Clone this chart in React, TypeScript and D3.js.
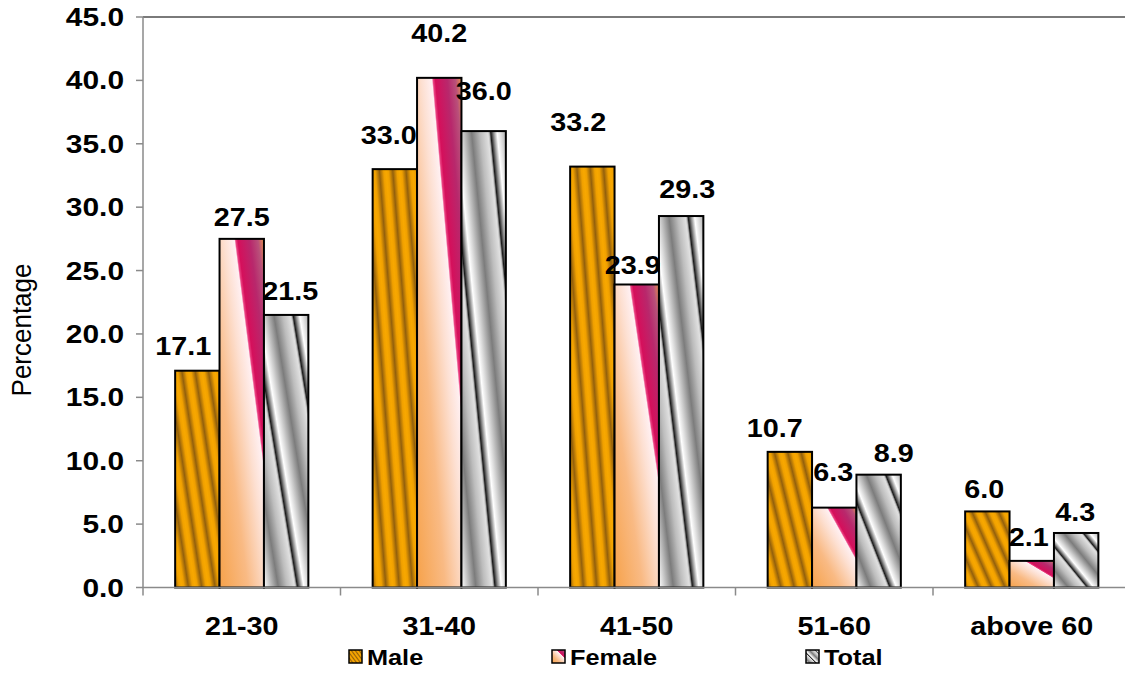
import React from "react";
import * as d3 from "d3";

const categories = ["21-30", "31-40", "41-50", "51-60", "above 60"];
const seriesNames = ["Male", "Female", "Total"];
const male = [17.1, 33.0, 33.2, 10.7, 6.0];
const female = [27.5, 40.2, 23.9, 6.3, 2.1];
const total = [21.5, 36.0, 29.3, 8.9, 4.3];
const yTicks = [0, 5, 10, 15, 20, 25, 30, 35, 40, 45];

// label nudges (dx, dy from bar top to label centre), as in the reference
const labelNudge: number[][][] = [
  [[-14, -25], [-6, -34], [-14, -45], [-15, -24], [-3, -22]],
  [[0, -22], [0, -45], [-4, -20], [-1, -36], [-3, -24]],
  [[4, -24], [0, -40], [6, -27], [15, -22], [-1, -21]],
];

const W = 1125;
const H = 673;
const left = 143;
const groupW = 197.5;
const top = 17;
const bottom = 587.5;
const FONT = "'Liberation Sans', Arial, sans-serif";
const SX = 1.15;

export default function App() {
  const values = [male, female, total];
  const fills = ["url(#gMale)", "url(#gFemale)", "url(#gTotal)"];
  const x0 = d3
    .scaleBand<string>()
    .domain(categories)
    .range([left, left + groupW * categories.length])
    .paddingInner(0)
    .paddingOuter(0);
  const barW = 44.4;
  const x1 = d3
    .scaleBand<string>()
    .domain(seriesNames)
    .range([(groupW - barW * 3) / 2, (groupW + barW * 3) / 2]);
  const y = d3.scaleLinear().domain([0, 45]).range([bottom, top]);

  const boundaries = d3.range(categories.length + 1).map((i) => left + i * groupW);

  return (
    <div style={{ position: "absolute", left: 0, top: 0 }}>
      <svg width={W} height={H} style={{ display: "block", background: "#fff" }}>
        <defs>
          <linearGradient id="gMale" x1="0" y1="0" x2="0.192" y2="-0.144" spreadMethod="repeat">
            <stop offset="0" stopColor="#F8A800" />
            <stop offset="0.18" stopColor="#F0A000" />
            <stop offset="0.5" stopColor="#93600C" />
            <stop offset="0.82" stopColor="#F0A000" />
            <stop offset="1" stopColor="#F8A800" />
          </linearGradient>
          <linearGradient id="gFemale" x1="0" y1="1" x2="1" y2="0">
            <stop offset="0" stopColor="#F6A24A" />
            <stop offset="0.32" stopColor="#F9BA84" />
            <stop offset="0.55" stopColor="#FDE0D2" />
            <stop offset="0.665" stopColor="#FFF0F2" />
            <stop offset="0.68" stopColor="#EA4282" />
            <stop offset="0.705" stopColor="#D50F5B" />
            <stop offset="0.84" stopColor="#B8286C" />
            <stop offset="0.93" stopColor="#B9507A" />
            <stop offset="1" stopColor="#E8904C" />
          </linearGradient>
          <linearGradient id="gTotal" x1="0" y1="1" x2="0.45" y2="0.55" spreadMethod="repeat">
            <stop offset="0" stopColor="#FFFFFF" />
            <stop offset="0.1" stopColor="#DCDCDC" />
            <stop offset="0.36" stopColor="#7C7C7C" />
            <stop offset="0.58" stopColor="#BDBDBD" />
            <stop offset="0.77" stopColor="#E0E0E0" />
            <stop offset="0.8" stopColor="#BEBEBE" />
            <stop offset="0.84" stopColor="#1A1A1A" />
            <stop offset="0.91" stopColor="#8A8A8A" />
            <stop offset="1" stopColor="#FFFFFF" />
          </linearGradient>
        </defs>

        {/* plot frame: top line, y axis, x axis */}
        <line x1={left} x2={W} y1={top} y2={top} stroke="#7A7A7A" strokeWidth={2} />
        <line x1={left} x2={left} y1={top} y2={bottom} stroke="#8A8A8A" strokeWidth={1.5} />
        {yTicks.map((t) => (
          <g key={t}>
            <line x1={left - 7} x2={left} y1={y(t)} y2={y(t)} stroke="#8A8A8A" strokeWidth={1.5} />
            <text
              transform={`translate(${left - 19},${y(t) + 9}) scale(${SX},1)`}
              textAnchor="end"
              fontFamily={FONT}
              fontWeight="bold"
              fontSize={26}
              fill="#000"
            >
              {t.toFixed(1)}
            </text>
          </g>
        ))}

        {/* bars */}
        {categories.map((c, ci) => (
          <g key={c} transform={`translate(${x0(c)},0)`}>
            {seriesNames.map((s, si) => {
              const v = values[si][ci];
              return (
                <rect
                  key={s}
                  x={x1(s)}
                  y={y(v)}
                  width={x1.bandwidth()}
                  height={y(0) - y(v)}
                  fill={fills[si]}
                  stroke="#000"
                  strokeWidth={2}
                />
              );
            })}
          </g>
        ))}

        <line x1={left} x2={W} y1={bottom} y2={bottom} stroke="#8A8A8A" strokeWidth={1.5} />
        {boundaries.map((b, i) => (
          <line key={i} x1={b} x2={b} y1={bottom} y2={bottom + 8} stroke="#8A8A8A" strokeWidth={1.5} />
        ))}

        {/* value labels */}
        {categories.map((c, ci) =>
          seriesNames.map((s, si) => {
            const v = values[si][ci];
            const [dx, dy] = labelNudge[si][ci];
            const cx = (x0(c) as number) + (x1(s) as number) + x1.bandwidth() / 2 + dx;
            const cy = y(v) + dy + 9;
            return (
              <text
                key={c + s}
                transform={`translate(${cx},${cy}) scale(${SX},1)`}
                textAnchor="middle"
                fontFamily={FONT}
                fontWeight="bold"
                fontSize={25}
                fill="#000"
              >
                {v.toFixed(1)}
              </text>
            );
          })
        )}

        {/* category labels */}
        {categories.map((c) => (
          <text
            key={c}
            transform={`translate(${(x0(c) as number) + groupW / 2},${635}) scale(${SX},1)`}
            textAnchor="middle"
            fontFamily={FONT}
            fontWeight="bold"
            fontSize={25}
            fill="#000"
          >
            {c}
          </text>
        ))}

        {/* y axis title */}
        <text
          transform={`translate(31,330) rotate(-90) scale(1,1.05)`}
          textAnchor="middle"
          fontFamily={FONT}
          fontSize={26}
          fill="#000"
        >
          Percentage
        </text>

        {/* legend */}
        {seriesNames.map((s, si) => {
          const lx = [349, 552, 806][si];
          return (
            <g key={s} transform={`translate(${lx},650)`}>
              <rect x={0} y={0} width={13} height={13} fill={fills[si]} stroke="#000" strokeWidth={1.5} />
              <text
                transform={`translate(18,14.5) scale(${SX},1)`}
                fontFamily={FONT}
                fontWeight="bold"
                fontSize={22}
                fill="#000"
              >
                {s}
              </text>
            </g>
          );
        })}
      </svg>
    </div>
  );
}
